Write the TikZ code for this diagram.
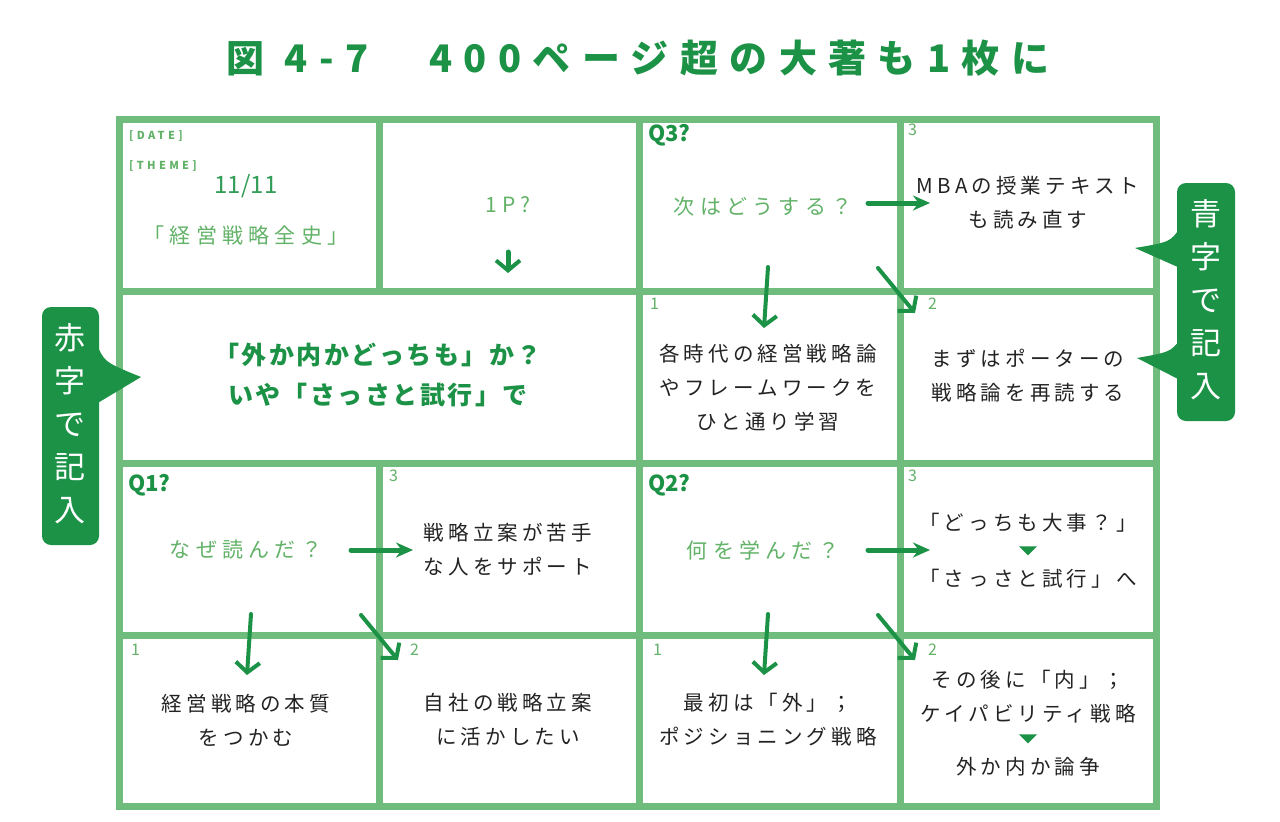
\documentclass[tikz,border=0pt]{standalone}
\usepackage{fontspec}
\setmainfont{Noto Sans CJK JP}
\usetikzlibrary{arrows.meta,calc,shapes.geometric}
\definecolor{gridgreen}{RGB}{112,188,124}
\definecolor{inkgreen}{RGB}{28,146,70}
\definecolor{pengreen}{RGB}{98,178,104}
\definecolor{penblack}{RGB}{35,35,35}
\tikzset{
  memo/.style={text=penblack, align=center, inner sep=0pt,
    font=\fontsize{20.5}{34}\selectfont\addfontfeature{LetterSpace=20}},
  hint/.style={text=pengreen, inner sep=0pt,
    font=\fontsize{21}{21}\selectfont\addfontfeature{LetterSpace=25}},
  qlabel/.style={anchor=north west, inner sep=0pt, text=inkgreen,
    font=\bfseries\fontsize{22}{22}\selectfont},
  num/.style={anchor=north west, inner sep=0pt, text=pengreen,
    font=\fontsize{16}{16}\selectfont},
  tag/.style={anchor=north west, inner sep=0pt, text=pengreen,
    font=\bfseries\fontsize{11}{11}\selectfont\addfontfeature{LetterSpace=30}},
  gridline/.style={gridgreen, line width=7pt},
  stroke/.style={inkgreen, line width=4pt, line cap=round,
    -{Straight Barb[length=10pt,width=24pt,line width=4pt]}},
  push/.style={inkgreen, line width=5pt, line cap=round,
    -{Stealth[length=17pt,width=15pt]}},
  tri/.style={isosceles triangle, isosceles triangle apex angle=90, shape border rotate=-90,
    fill=inkgreen, inner sep=0pt, minimum height=9pt, minimum width=17pt},
  bubble/.style={fill=inkgreen, rounded corners=9pt},
  vtext/.style={text=white, align=center, inner sep=0pt,
    font=\fontsize{31}{43}\selectfont}
}
\begin{document}
\begin{tikzpicture}[x=1pt,y=-1pt]
\useasboundingbox[fill=white] (0,0) rectangle (1280,822);

% title
\node[text=inkgreen, font=\bfseries\fontsize{38}{38}\selectfont\addfontfeature{LetterSpace=30}]
  (title) at (638,58) {図 4-7　400ページ超の大著も1枚に};

% the sheet
\draw[gridline] (119,119) rectangle (1156,806);
\foreach \y in {291,463,635} \draw[gridline] (119,\y) -- (1156,\y);
\draw[gridline] (379,119) -- (379,291);
\draw[gridline] (379,463) -- (379,806);
\foreach \x in {639,900} \draw[gridline] (\x,119) -- (\x,806);

% callouts
\fill[bubble] (42,307) rectangle (99,545);
\fill[inkgreen] (96,342) .. controls (104,362) .. (141,377) -- (96,404) -- cycle;
\node[vtext] (red) at (70,424) {赤\\字\\で\\記\\入};
\fill[bubble] (1177,183) rectangle (1235,421);
\fill[inkgreen] (1180,228) .. controls (1170,242) .. (1135,248) -- (1180,268) -- cycle;
\fill[inkgreen] (1180,340) .. controls (1170,352) .. (1137,358) -- (1180,380) -- cycle;
\node[vtext] (blue) at (1206,300) {青\\字\\で\\記\\入};

% top row
\node[tag] (date) at (129,130) {[DATE]};
\node[tag] (theme) at (129,160) {[THEME]};
\node[text=inkgreen!90, font=\fontsize{24}{24}\selectfont] (day) at (246,186) {11/11};
\node[hint] (book) at (246,236) {「経営戦略全史」};
\node[hint] (page) at (508,205) {1P?};
\coordinate (p0) at (508,252);
\coordinate (p1) at (508,273);
\draw[stroke, line width=5pt] (p0) -- (p1);

\node[qlabel] (q3) at (648,124) {Q3?};
\node[hint] (q3t) at (763,207) {次はどうする？};
\node[num] (n33) at (908,124) {3};
\node[memo] (m33) at (1028,203) {MBAの授業テキスト\\も読み直す};

% second row
\node[text=inkgreen, align=center, font=\bfseries\fontsize{25}{40}\selectfont\addfontfeature{LetterSpace=10}]
  (main) at (378,375) {「外か内かどっちも」か？\\いや「さっさと試行」で};
\node[num] (n31) at (650,298) {1};
\node[memo] (m31) at (768,388) {各時代の経営戦略論\\やフレームワークを\\ひと通り学習};
\node[num] (n32) at (928,298) {2};
\node[memo] (m32) at (1028,376) {まずはポーターの\\戦略論を再読する};

% Q1 block
\node[qlabel] (q1) at (128,474) {Q1?};
\node[hint] (q1t) at (246,550) {なぜ読んだ？};
\node[num] (n13) at (389,470) {3};
\node[memo] (m13) at (508,550) {戦略立案が苦手\\な人をサポート};
\node[num] (n11) at (131,644) {1};
\node[memo] (m11) at (246,720) {経営戦略の本質\\をつかむ};
\node[num] (n12) at (410,644) {2};
\node[memo] (m12) at (508,720) {自社の戦略立案\\に活かしたい};

% Q2 block
\node[qlabel] (q2) at (648,474) {Q2?};
\node[hint] (q2t) at (763,550) {何を学んだ？};
\node[num] (n23) at (908,470) {3};
\node[memo] (m23a) at (1028,523) {「どっちも大事？」};
\node[tri] (d23) at (1028,550) {};
\node[memo] (m23b) at (1028,579) {「さっさと試行」へ};
\node[num] (n21) at (653,644) {1};
\node[memo] (m21) at (768,720) {最初は「外」；\\ポジショニング戦略};
\node[num] (n22) at (928,644) {2};
\node[memo] (m22) at (1028,697) {その後に「内」；\\ケイパビリティ戦略};
\node[tri] (d22) at (1028,738) {};
\node[memo] (m22b) at (1028,767) {外か内か論争};

% arrows
\foreach \q/\xa/\ya in {3/0/0, 1/-517/347, 2/0/347}{
  \coordinate (r\q a) at ($(868,203)+(\xa,\ya)$);
  \coordinate (r\q b) at ($(930,203)+(\xa,\ya)$);
  \coordinate (d\q a) at ($(768,267)+(\xa,\ya)$);
  \coordinate (d\q b) at ($(764,328)+(\xa,\ya)$);
  \coordinate (s\q a) at ($(878,268)+(\xa,\ya)$);
  \coordinate (s\q b) at ($(915,313)+(\xa,\ya)$);
  \draw[push] (r\q a) -- (r\q b);
  \draw[stroke] (d\q a) -- (d\q b);
  \draw[stroke] (s\q a) -- (s\q b);
}
\end{tikzpicture}
\end{document}
